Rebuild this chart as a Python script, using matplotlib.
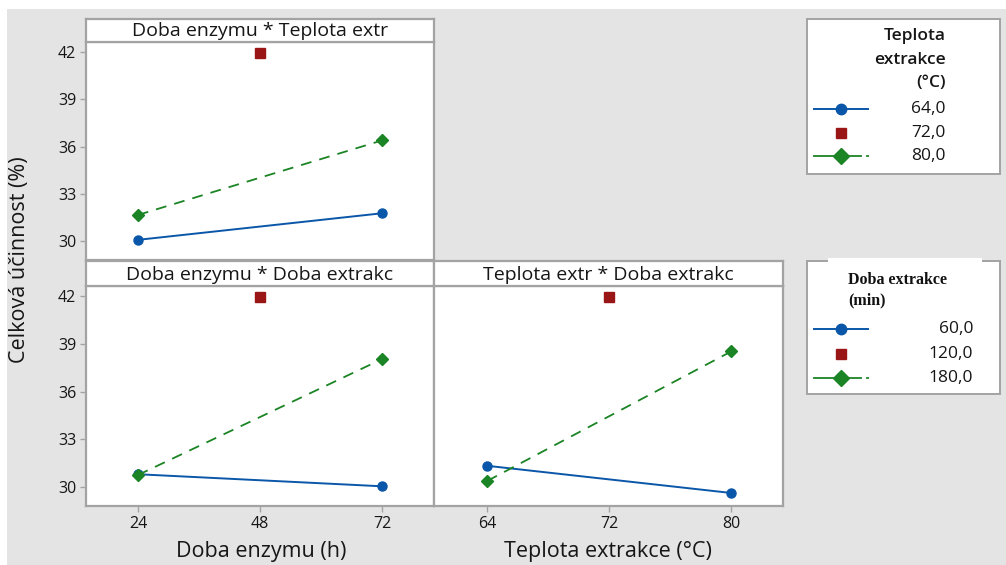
import matplotlib
matplotlib.use("Agg")
import matplotlib.pyplot as plt
from matplotlib.patches import Rectangle
from matplotlib.lines import Line2D

plt.rcParams['font.family'] = ['Open Sans', 'DejaVu Sans']

# Factor levels
enzyme_levels = [24, 48, 72]          # Doba enzymu (h)
temp_levels = [64, 72, 80]            # Teplota extrakce (°C)

# Mean efficiency (%) for each interaction
# Doba enzymu * Teplota extr
et_64 = [30.08, 31.77]   # at 24 h, 72 h
et_72 = [41.92]          # at 48 h
et_80 = [31.66, 36.40]   # at 24 h, 72 h
# Doba enzymu * Doba extrakc
ed_60 = [30.80, 30.04]
ed_120 = [41.94]
ed_180 = [30.75, 38.05]
# Teplota extr * Doba extrakc
td_60 = [31.33, 29.62]   # at 64 °C, 80 °C
td_120 = [41.94]         # at 72 °C
td_180 = [30.38, 38.53]

temp_legend = ["64,0", "72,0", "80,0"]
time_legend = ["60,0", "120,0", "180,0"]

y_ticks = [30, 33, 36, 39, 42]

BLUE = "#0A56A8"
RED = "#9A1616"
GREEN = "#1B8424"
BORDER = "#A3A3A3"
BG = "#E4E4E4"
TXT = "#161616"

W, H = 1006, 565
fig = plt.figure(figsize=(W / 100, H / 100), dpi=100, facecolor="white")


def rect(x0, y0, x1, y1):
    return [x0 / W, 1 - y1 / H, (x1 - x0) / W, (y1 - y0) / H]


def fx(x):
    return x / W


def fy(y):
    return 1 - y / H


fig.patches.append(Rectangle((fx(7), 0), 1 - fx(7), fy(9), transform=fig.transFigure,
                             facecolor=BG, edgecolor="none", zorder=-10))

YLIM = (28.8, 42.65)


def style_axes(ax, xlim, xticks, show_x, show_y):
    ax.set_facecolor("white")
    ax.set_xlim(*xlim)
    ax.set_ylim(*YLIM)
    for s in ax.spines.values():
        s.set_color(BORDER)
        s.set_linewidth(1.6)
    ax.set_yticks(y_ticks)
    ax.set_xticks(xticks)
    ax.tick_params(axis="both", colors=BORDER, labelcolor=TXT, length=4,
                   width=1.0, labelsize=11.5, pad=3)
    if not show_y:
        ax.tick_params(axis="y", left=False, labelleft=False)
    if not show_x:
        ax.tick_params(axis="x", bottom=False, labelbottom=False)


def strip(x0, y0, x1, y1, title):
    s = fig.add_axes(rect(x0, y0, x1, y1))
    s.set_facecolor("white")
    s.set_xticks([])
    s.set_yticks([])
    for sp in s.spines.values():
        sp.set_color(BORDER)
        sp.set_linewidth(1.6)
    s.text(0.5, 0.46, title, ha="center", va="center", fontsize=14,
           color=TXT, transform=s.transAxes)


def draw_series(ax, xs, low, mid, high, midx):
    ax.plot([xs[0], xs[2]], low, color=BLUE, lw=1.4, marker="o", ms=6.5, zorder=3)
    ax.plot([midx], mid, linestyle="none", color=RED, marker="s", ms=6.5, zorder=3)
    ax.plot([xs[0], xs[2]], high, color=GREEN, lw=1.3, dashes=(6, 4.5), marker="D",
            ms=6.5, zorder=4)


# Top-left panel
ax1 = fig.add_axes(rect(86, 42, 434, 260))
style_axes(ax1, (13.8, 82.2), enzyme_levels, False, True)
draw_series(ax1, enzyme_levels, et_64, et_72, et_80, enzyme_levels[1])
strip(86, 19, 434, 42, "Doba enzymu * Teplota extr")

# Bottom-left panel
ax2 = fig.add_axes(rect(86, 286, 434, 506))
style_axes(ax2, (13.8, 82.2), enzyme_levels, True, True)
draw_series(ax2, enzyme_levels, ed_60, ed_120, ed_180, enzyme_levels[1])
strip(86, 261, 434, 286, "Doba enzymu * Doba extrakc")

# Bottom-right panel
ax3 = fig.add_axes(rect(434, 286, 783, 506))
style_axes(ax3, (60.5, 83.4), temp_levels, True, False)
draw_series(ax3, temp_levels, td_60, td_120, td_180, temp_levels[1])
strip(434, 261, 783, 286, "Teplota extr * Doba extrakc")

# Axis labels
fig.text(fx(20), fy(260), "Celková účinnost (%)", rotation=90, ha="center", va="center",
         fontsize=15.5, color=TXT)
fig.text(fx(261), fy(551), "Doba enzymu (h)", ha="center", va="center",
         fontsize=15.5, color=TXT)
fig.text(fx(608), fy(551), "Teplota extrakce (°C)", ha="center", va="center",
         fontsize=15.5, color=TXT)


def legend_handles(rows_y):
    ys = rows_y
    fig.add_artist(Line2D([fx(814), fx(868)], [fy(ys[0])] * 2, color=BLUE, lw=1.4,
                          transform=fig.transFigure))
    fig.add_artist(Line2D([fx(841)], [fy(ys[0])], color=BLUE, marker="o", ms=7.5,
                          linestyle="none", transform=fig.transFigure))
    fig.add_artist(Line2D([fx(841)], [fy(ys[1])], color=RED, marker="s", ms=7.5,
                          linestyle="none", transform=fig.transFigure))
    fig.add_artist(Line2D([fx(814), fx(861)], [fy(ys[2])] * 2, color=GREEN, lw=1.3,
                          transform=fig.transFigure))
    fig.add_artist(Line2D([fx(867), fx(868)], [fy(ys[2])] * 2, color=GREEN, lw=1.3,
                          transform=fig.transFigure))
    fig.add_artist(Line2D([fx(841)], [fy(ys[2])], color=GREEN, marker="D", ms=8,
                          linestyle="none", transform=fig.transFigure))


# Legend: Teplota extrakce
fig.patches.append(Rectangle((fx(807), fy(174)), fx(1000) - fx(807), fy(19) - fy(174),
                             transform=fig.transFigure, facecolor="white",
                             edgecolor=BORDER, lw=1.4))
for txt, y in zip(["Teplota", "extrakce", "(°C)"], [36, 60, 83]):
    fig.text(fx(946), fy(y), txt, ha="right", va="center", fontsize=12.5,
             fontweight="semibold", color=TXT)
rows1 = [109, 133, 156]
legend_handles(rows1)
for txt, y in zip(temp_legend, rows1):
    fig.text(fx(946), fy(y), txt, ha="right", va="center", fontsize=12.5, color=TXT)

# Legend: Doba extrakce
fig.patches.append(Rectangle((fx(807), fy(394)), fx(1000) - fx(807), fy(261) - fy(394),
                             transform=fig.transFigure, facecolor="white",
                             edgecolor=BORDER, lw=1.4))
fig.patches.append(Rectangle((fx(828), fy(265)), fx(982) - fx(828), fy(258) - fy(265),
                             transform=fig.transFigure, facecolor="white",
                             edgecolor="none", zorder=5))
fig.text(fx(848), fy(280), "Doba extrakce", ha="left", va="center", fontsize=11.5,
         fontweight="bold", family=["Liberation Serif", "DejaVu Serif"], color="#111111")
fig.text(fx(848), fy(300), "(min)", ha="left", va="center", fontsize=11.5,
         fontweight="bold", family=["Liberation Serif", "DejaVu Serif"], color="#111111")
rows2 = [329, 354, 378]
legend_handles(rows2)
for txt, y in zip(time_legend, rows2):
    fig.text(fx(973), fy(y), txt, ha="right", va="center", fontsize=12.5, color=TXT)

fig.savefig("out.png", dpi=100, facecolor="white")
